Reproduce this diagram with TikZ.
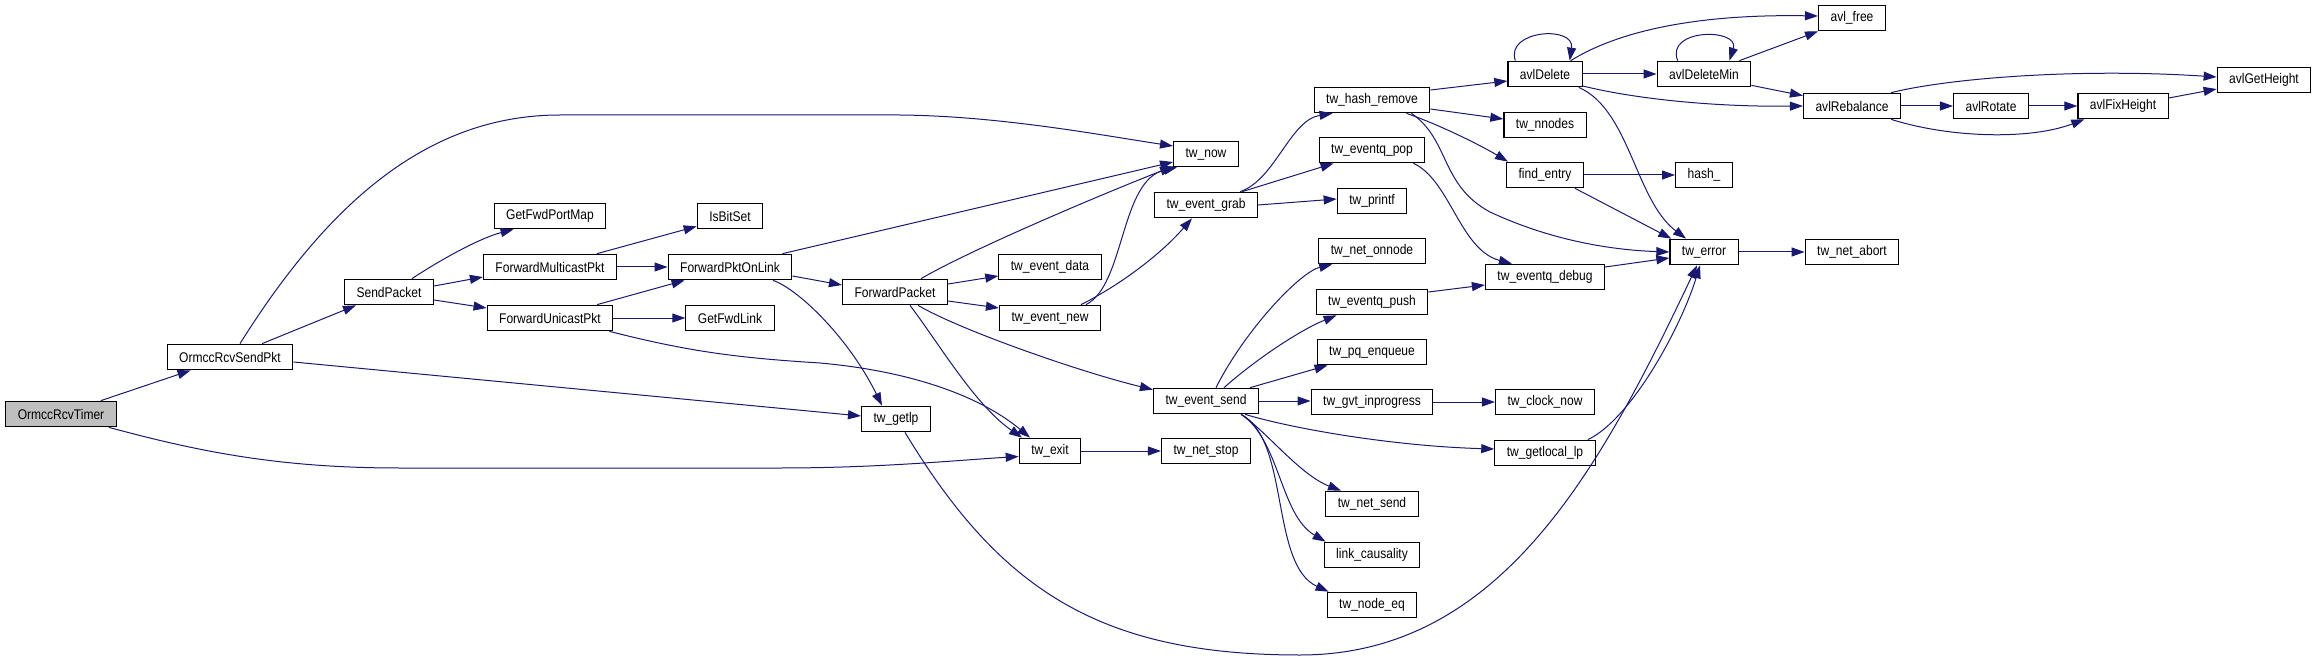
\documentclass[tikz,border=0pt]{standalone}
\usepackage{fontspec}
\setmainfont[FakeStretch=0.86]{Liberation Sans}
\usepackage{tikz}
\usetikzlibrary{arrows.meta}
\definecolor{cEdge}{HTML}{191970}
\definecolor{cRoot}{HTML}{BFBFBF}
\tikzset{
  fn/.style={draw=black,fill=white,line width=0.6pt,font=\fontsize{7}{8}\selectfont,minimum height=12.75pt,inner xsep=6pt,inner ysep=1pt},
  rootfn/.style={fn,fill=cRoot},
  call/.style={draw=cEdge,line width=0.5pt,-{Triangle[length=6.5pt,width=4.5pt]}},
}
\begin{document}
\begin{tikzpicture}[x=0.5pt,y=-0.5pt]
  \useasboundingbox (0,0) rectangle (2317,663);
  \node[rootfn] (tmr) at (61,414) {OrmccRcvTimer};
  \foreach \n/\x/\y/\t in {osp/230/357/OrmccRcvSendPkt,sndpkt/389/292/SendPacket,
      gfpm/550/216/GetFwdPortMap,fmp/550/267/ForwardMulticastPkt,fup/550/318/ForwardUnicastPkt,
      ibs/730/216/IsBitSet,fpol/730/267/ForwardPktOnLink,gfl/730/318/GetFwdLink,
      fwdpkt/895/292/ForwardPacket,getlp/896/419/tw\_getlp,
      twexit/1050/451/tw\_exit,evdata/1050/267/tw\_event\_data,evnew/1050/318/tw\_event\_new,
      twnow/1206/154/tw\_now,evgrab/1206/205/tw\_event\_grab,evsend/1206/401/tw\_event\_send,netstop/1206/451/tw\_net\_stop,
      hashrm/1372/100/tw\_hash\_remove,eqpop/1372/150/tw\_eventq\_pop,printf/1372/201/tw\_printf,
      onnode/1372/251/tw\_net\_onnode,eqpush/1372/302/tw\_eventq\_push,pqenq/1372/352/tw\_pq\_enqueue,
      gvtprog/1372/402/tw\_gvt\_inprogress,netsend/1372/504/tw\_net\_send,linkc/1372/555/link\_causality,
      nodeeq/1372/605/tw\_node\_eq,
      avldel/1545/74/avlDelete,nnodes/1545/125/tw\_nnodes,findent/1545/175/find\_entry,
      eqdebug/1545/277/tw\_eventq\_debug,clknow/1545/402/tw\_clock\_now,getlocal/1545/453/tw\_getlocal\_lp,
      avldelmin/1704/74/avlDeleteMin,hashfn/1704/175/hash\_,twerror/1704/252/tw\_error,
      avlfree/1852/18/avl\_free,avlreb/1852/106/avlRebalance,netabort/1852/252/tw\_net\_abort,
      avlrot/1991/106/avlRotate,avlfix/2123/106/avlFixHeight,avlgeth/2264/80/avlGetHeight}{
    \node[fn] (\n) at (\x,\y) {\t};}

  \draw[call] ([xshift=-8pt]tmr.north east) -- ([xshift=12pt]osp.south west);
  \draw[call] ([xshift=-4pt]tmr.south east) .. controls (200,452) and (280,468) .. (400,468) -- (780,468) .. controls (880,468) and (960,460) .. (twexit.190);

  \draw[call] ([xshift=5pt]osp.north) .. controls (330,200) and (430,115) .. (560,115) -- (900,115) .. controls (1000,116) and (1100,135) .. ([yshift=4pt]twnow.west);
  \draw[call] ([xshift=16pt]osp.north) -- ([xshift=6pt]sndpkt.south west);
  \draw[call] ([yshift=-2.5pt]osp.east) -- ([yshift=1.5pt]getlp.west);

  \draw[call] ([xshift=11.5pt]sndpkt.north) .. controls (440,260) and (480,238) .. ([xshift=10pt]gfpm.south west);
  \draw[call] ([yshift=3pt]sndpkt.east) -- ([yshift=-5pt]fmp.west);
  \draw[call] ([yshift=-4pt]sndpkt.east) -- ([yshift=5pt]fup.west);

  \draw[call] ([xshift=23.5pt]fmp.north) -- ([yshift=1.5pt]ibs.south west);
  \draw[call] (fmp.east) -- (fpol.west);
  \draw[call] ([xshift=23.5pt]fup.north) -- ([xshift=8.5pt]fpol.south west);
  \draw[call] (fup.east) -- (gfl.west);
  \draw[call] ([xshift=-2pt]fup.south east) .. controls (690,352) and (740,358) .. (820,363) .. controls (920,372) and (985,400) .. ([xshift=-10pt]twexit.north);

  \draw[call] ([xshift=-5pt]fpol.north east) -- ([yshift=-4pt]twnow.west);
  \draw[call] ([yshift=-4.5pt]fpol.east) -- ([yshift=3.5pt]fwdpkt.west);
  \draw[call] ([xshift=21.5pt]fpol.south) .. controls (800,290) and (850,340) .. ([xshift=-7pt]getlp.north);

  \draw[call] ([xshift=13pt]fwdpkt.north) .. controls (970,250) and (1100,195) .. ([yshift=0.5pt]twnow.south west);
  \draw[call] ([yshift=4pt]fwdpkt.east) -- ([yshift=-4.5pt]evdata.west);
  \draw[call] ([yshift=-4.5pt]fwdpkt.east) -- ([yshift=5pt]evnew.west);
  \draw[call] ([xshift=7.5pt]fwdpkt.south) .. controls (940,345) and (975,405) .. ([xshift=-14pt]twexit.north);
  \draw[call] ([xshift=11.5pt]fwdpkt.south) .. controls (960,330) and (1080,372) .. ([yshift=-1pt]evsend.north west);

  \draw[call] ([xshift=18pt]evnew.north) .. controls (1125,285) and (1120,180) .. ([xshift=2pt]twnow.south west);
  \draw[call] ([xshift=15.5pt]evnew.north) .. controls (1120,285) and (1160,255) .. ([xshift=-7pt]evgrab.south);

  \draw[call] ([xshift=-9pt]evgrab.north east) .. controls (1275,180) and (1290,120) .. ([xshift=9.5pt]hashrm.south west);
  \draw[call] ([xshift=-8pt]evgrab.north east) -- ([xshift=7.5pt]eqpop.south west);
  \draw[call] (evgrab.east) -- ([yshift=1pt]printf.west);

  \draw[call] ([xshift=5pt]evsend.north) .. controls (1245,330) and (1300,272) .. ([xshift=7pt]onnode.south west);
  \draw[call] ([xshift=9pt]evsend.north) .. controls (1255,360) and (1300,330) .. ([xshift=10.5pt]eqpush.south west);
  \draw[call] ([xshift=-4.5pt]evsend.north east) -- ([xshift=5.5pt]pqenq.south west);
  \draw[call] (evsend.east) -- (evsend.east -| gvtprog.west);
  \draw[call] ([xshift=-7pt]evsend.south east) .. controls (1290,428) and (1390,446) .. ([yshift=2pt]getlocal.west);
  \draw[call] ([xshift=-9pt]evsend.south east) .. controls (1265,430) and (1300,475) .. ([xshift=-15.5pt]netsend.north);
  \draw[call] ([xshift=-9pt]evsend.south east) .. controls (1280,440) and (1280,515) .. ([xshift=1pt]linkc.north west);
  \draw[call] ([xshift=-9pt]evsend.south east) .. controls (1290,440) and (1270,565) .. ([xshift=1pt]nodeeq.north west);

  \draw[call] (gvtprog.east) -- (gvtprog.east -| clknow.west);
  \draw[call] ([yshift=5pt]eqpush.east) -- ([yshift=-4pt]eqdebug.west);
  \draw[call] ([xshift=-6pt]eqpop.south east) .. controls (1450,180) and (1460,250) .. ([xshift=13.5pt]eqdebug.north west);

  \draw[call] ([yshift=5pt]hashrm.east) -- ([yshift=-3.5pt]avldel.west);
  \draw[call] ([yshift=-4.5pt]hashrm.east) -- ([yshift=3pt]nnodes.west);
  \draw[call] ([xshift=-12pt]hashrm.south east) .. controls (1440,125) and (1480,145) .. ([xshift=1pt]findent.north west);
  \draw[call] ([xshift=-9.5pt]hashrm.south east) .. controls (1450,140) and (1440,185) .. (1490,212) .. controls (1550,240) and (1610,250) .. (twerror.west);

  \draw[call] (findent.east) -- (findent.east -| hashfn.west);
  \draw[call] ([xshift=-4.5pt]findent.south east) -- ([xshift=1pt]twerror.north west);
  \draw[call] ([yshift=5pt]eqdebug.east) -- ([yshift=-3pt]twerror.west);
  \draw[call] ([xshift=-4pt]getlocal.north east) .. controls (1630,420) and (1680,330) .. ([xshift=-2pt]twerror.south);
  \draw[call] ([xshift=4.5pt]getlp.south) .. controls (1000,590) and (1100,655) .. (1300,655) .. controls (1500,655) and (1600,470) .. ([xshift=-3.5pt]twerror.south);
  \draw[call] (twerror.east) -- (netabort.west);
  \draw[call] (twexit.east) -- (netstop.west);

  \draw[call] ([xshift=4pt]avldel.north west) .. controls (1505,30) and (1575,25) .. ([xshift=-6.5pt]avldel.north east);
  \draw[call] ([xshift=-6pt]avldel.north east) .. controls (1620,30) and (1700,14) .. ([yshift=1pt]avlfree.west);
  \draw[call] (avldel.east) -- (avldelmin.west);
  \draw[call] ([yshift=-6pt]avldel.east) .. controls (1640,100) and (1720,107) .. (avlreb.west);
  \draw[call] ([xshift=-2pt]avldel.south east) .. controls (1630,110) and (1635,200) .. ([xshift=-9pt]twerror.north);

  \draw[call] ([xshift=10.5pt]avldelmin.north west) .. controls (1665,28) and (1740,28) .. ([xshift=-11pt]avldelmin.north east);
  \draw[call] ([xshift=-6pt]avldelmin.north east) -- (avlfree.south west);
  \draw[call] ([yshift=1pt]avldelmin.south east) -- ([yshift=-1.5pt]avlreb.north west);

  \draw[call] ([xshift=-5pt]avlreb.north east) .. controls (1950,78) and (2080,68) .. ([yshift=1.5pt]avlgeth.west);
  \draw[call] (avlreb.east) -- (avlrot.west);
  \draw[call] ([xshift=-5pt]avlreb.south east) .. controls (1950,138) and (2030,140) .. ([xshift=3.5pt]avlfix.south west);
  \draw[call] (avlrot.east) -- (avlfix.west);
  \draw[call] ([yshift=4pt]avlfix.east) -- ([yshift=-4.5pt]avlgeth.west);
\end{tikzpicture}
\end{document}
